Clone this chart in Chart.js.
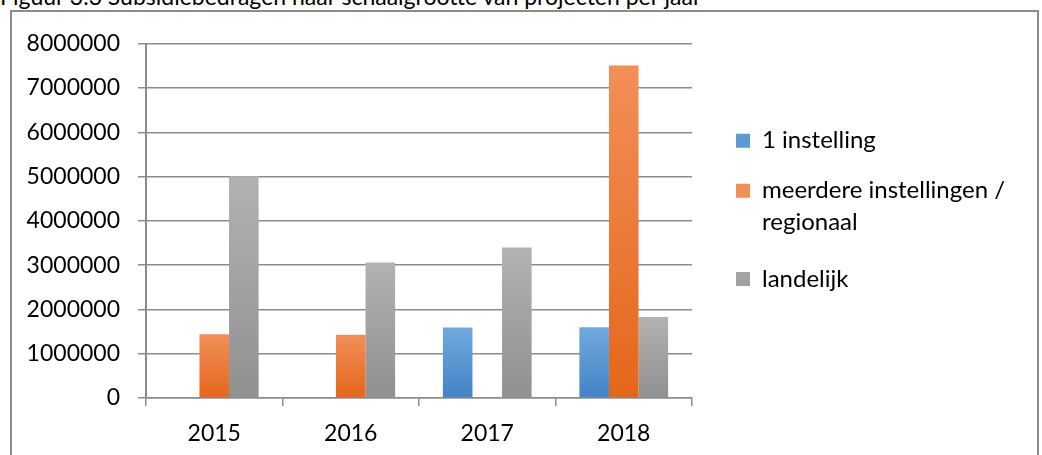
<!DOCTYPE html>
<html lang="nl">
<head>
<meta charset="utf-8">
<title>Subsidiebedragen naar schaalgrootte</title>
<script src="https://cdn.jsdelivr.net/npm/chart.js@4.4.1/dist/chart.umd.min.js"></script>
<style>
  body { margin: 0; background: #fff; overflow: hidden; }
  #box {
    position: absolute; left: 10px; top: 10px;
    width: 1025px; height: 452px;
    border: 2px solid #8c8c8c; background: #fff;
  }
  #title {
    position: absolute; left: 0; top: -15px;
    font: 23px Lato, sans-serif; line-height: 23px;
    color: #000; white-space: nowrap;
  }
</style>
</head>
<body>
<div id="box"><canvas id="subsidieChart"></canvas></div>
<div id="title">Figuur 3.3 Subsidiebedragen naar schaalgrootte van projecten per jaar</div>
<script>
// data
const categories = ['2015', '2016', '2017', '2018'];
const seriesNames = ['1 instelling', 'meerdere instellingen /\nregionaal', 'landelijk'];
const eenInstelling = [null, null, 1590000, 1600000];
const meerdereInstellingen = [1440000, 1430000, null, 7510000];
const landelijk = [5010000, 3060000, 3400000, 1830000];
const yTicks = { min: 0, max: 8000000, step: 1000000 };

const FONT = 'Lato';
const GRID = '#8c8c8c';
const LEGEND_WIDTH = 345;
const LEGEND_DX = 18;
const LEGEND_DY = -11;

// excel-like vertical gradient per bar
function barFill(solid, top, bottom) {
  return function (ctx) {
    const chart = ctx.chart;
    if (ctx.type !== 'data' || !chart.chartArea || !ctx.parsed || ctx.parsed.y == null) {
      return solid;
    }
    const y = chart.scales.y;
    const yTop = y.getPixelForValue(ctx.parsed.y);
    const yBase = y.getPixelForValue(0);
    const g = chart.ctx.createLinearGradient(0, yTop, 0, yBase);
    g.addColorStop(0, top);
    g.addColorStop(1, bottom);
    return g;
  };
}

const legendPlacement = {
  id: 'legendPlacement',
  beforeInit(chart) {
    const legend = chart.legend;
    const fit = legend.fit;
    legend.fit = function () {
      fit.call(this);
      this.width = LEGEND_WIDTH;
    };
  },
  afterLayout(chart) {
    const legend = chart.legend;
    legend.left += LEGEND_DX;
    legend.top += LEGEND_DY;
    legend.bottom += LEGEND_DY;
  }
};

const ctx = document.getElementById('subsidieChart').getContext('2d');

new Chart(ctx, {
  type: 'bar',
  data: {
    labels: categories,
    datasets: [
      {
        label: seriesNames[0],
        data: eenInstelling,
        backgroundColor: barFill('#5b9bd5', '#72a9de', '#4283c6')
      },
      {
        label: seriesNames[1],
        data: meerdereInstellingen,
        backgroundColor: barFill('#ed7d31', '#f28f58', '#e4661a')
      },
      {
        label: seriesNames[2],
        data: landelijk,
        backgroundColor: barFill('#a5a5a5', '#b2b2b2', '#909090')
      }
    ]
  },
  options: {
    responsive: true,
    maintainAspectRatio: false,
    animation: false,
    layout: { padding: { top: 28, right: 0, bottom: 16, left: 0 } },
    datasets: {
      bar: { categoryPercentage: 0.65, barPercentage: 1, borderWidth: 0 }
    },
    scales: {
      x: {
        afterFit(scale) { scale.height = 50; },
        grid: {
          display: true,
          offset: true,
          drawOnChartArea: false,
          drawTicks: true,
          tickLength: 8,
          color: GRID,
          lineWidth: 1.5
        },
        border: { display: true, color: GRID, width: 1.5 },
        ticks: {
          color: '#000',
          padding: 14,
          font: { family: FONT, size: 23 }
        }
      },
      y: {
        min: yTicks.min,
        max: yTicks.max,
        afterFit(scale) { scale.width = 134; },
        grid: {
          color: GRID,
          lineWidth: 1.5,
          drawTicks: true,
          tickLength: 8
        },
        border: { display: true, color: GRID, width: 2 },
        ticks: {
          stepSize: yTicks.step,
          color: '#000',
          padding: 18,
          font: { family: FONT, size: 23 },
          callback: (v) => String(v)
        }
      }
    },
    plugins: {
      title: { display: false },
      tooltip: { enabled: false },
      legend: {
        position: 'right',
        fullSize: false,
        labels: {
          color: '#000',
          boxWidth: 14,
          boxHeight: 14,
          padding: 26,
          font: { family: FONT, size: 24, lineHeight: 1.3 },
          generateLabels(chart) {
            const items = Chart.defaults.plugins.legend.labels.generateLabels(chart);
            items.forEach((item) => {
              item.lineWidth = 0;
              const lines = item.text.split('\n');
              if (lines.length > 1) item.text = lines;
            });
            return items;
          }
        }
      }
    }
  },
  plugins: [legendPlacement]
});
</script>
</body>
</html>
